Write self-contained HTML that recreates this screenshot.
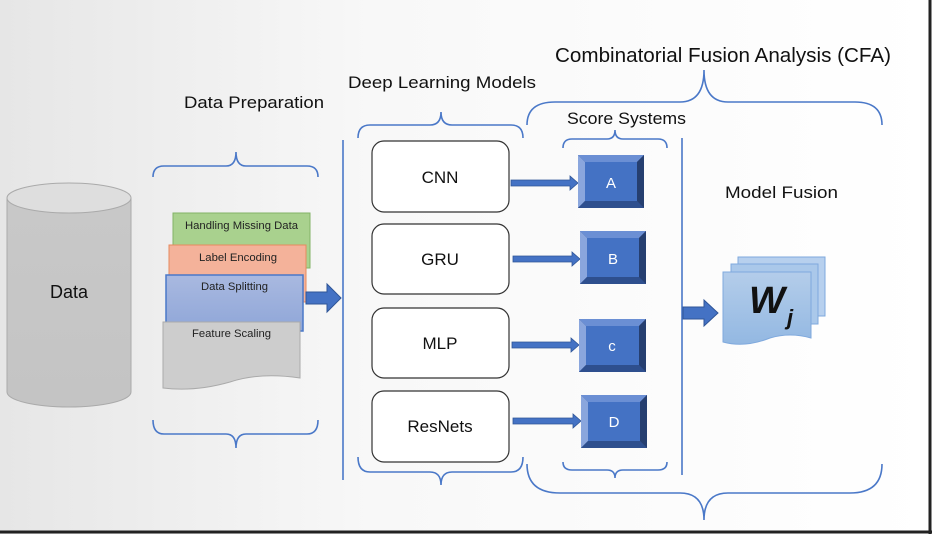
<!DOCTYPE html>
<html><head><meta charset="utf-8"><style>
html,body{margin:0;padding:0;background:#fff}
svg{display:block}
text{font-family:"Liberation Sans",sans-serif}
</style></head><body>
<svg width="932" height="534" viewBox="0 0 932 534" xmlns="http://www.w3.org/2000/svg">
<defs>
<linearGradient id="bg" x1="0" x2="1" y1="0" y2="0">
<stop offset="0" stop-color="#e6e6e6"/><stop offset="0.4" stop-color="#f8f8f8"/><stop offset="1" stop-color="#ffffff"/></linearGradient>
<linearGradient id="cyl" x1="0" x2="0" y1="0" y2="1"><stop offset="0" stop-color="#c8c8c8"/><stop offset="1" stop-color="#c4c4c4"/></linearGradient>
<linearGradient id="blu" x1="0" x2="0" y1="0" y2="1"><stop offset="0" stop-color="#a9b9e0"/><stop offset="1" stop-color="#8fa6d8"/></linearGradient>
<linearGradient id="doc" x1="0" x2="0" y1="0" y2="1"><stop offset="0" stop-color="#b4cdea"/><stop offset="1" stop-color="#93b8e2"/></linearGradient>
</defs>
<rect width="932" height="534" fill="url(#bg)"/>
<line x1="930" y1="0" x2="930" y2="534" stroke="#222" stroke-width="3"/>
<line x1="0" y1="532" x2="932" y2="532" stroke="#222" stroke-width="3"/>

<!-- cylinder -->
<path d="M7,198 L7,392 A62,15 0 0 0 131,392 L131,198 Z" fill="url(#cyl)" stroke="#aaa"/>
<ellipse cx="69" cy="198" rx="62" ry="15" fill="#dedede" stroke="#aaa"/>
<text x="69" y="298" font-size="18" text-anchor="middle" fill="#111">Data</text>

<g fill="none" stroke="#4a78c8" stroke-width="1.6">
<path d="M153,177 Q153,166 164,166 L226,166 Q236,166 236,152 Q236,166 246,166 L307,166 Q318,166 318,177"/>
<path d="M153,420 Q153,434 164,434 L226,434 Q236,434 236,448 Q236,434 246,434 L307,434 Q318,434 318,420"/>
<path d="M358,138 Q358,125 370,125 L430,125 Q441,125 441,112 Q441,125 452,125 L511,125 Q523,125 523,138"/>
<path d="M358,457 Q358,472 370,472 L430,472 Q441,472 441,485 Q441,472 452,472 L511,472 Q523,472 523,457"/>
<path d="M563,148 Q563,139 572,139 L607,139 Q615,139 615,130 Q615,139 623,139 L658,139 Q667,139 667,148"/>
<path d="M563,462 Q563,470 572,470 L607,470 Q615,470 615,478 Q615,470 623,470 L658,470 Q667,470 667,462"/>
<path d="M527,125 Q527,102 555,102 L680,102 Q704,102 704,70 Q704,102 728,102 L855,102 Q882,102 882,125"/>
<path d="M527,464 Q527,493 560,493 L680,493 Q704,493 704,520 Q704,493 728,493 L850,493 Q882,493 882,464"/>
<line x1="343" y1="140" x2="343" y2="480"/>
<line x1="682" y1="138" x2="682" y2="475"/>
</g>

<!-- prep boxes -->
<rect x="173" y="213" width="137" height="55" fill="#a9d18e" stroke="#82b366"/>
<rect x="169" y="245" width="137" height="57" fill="#f4b29a" stroke="#e68a5e"/>
<rect x="166" y="275" width="137" height="56" fill="url(#blu)" stroke="#4a78c8" stroke-width="1.5"/>
<path d="M163,322 L300,322 L300,378 Q260,372 230,382 Q195,392 163,388 Z" fill="#cdcdcd" stroke="#aaa"/>
<text x="185" y="229" font-size="11" textLength="113" lengthAdjust="spacingAndGlyphs" fill="#222">Handling Missing Data</text>
<text x="199" y="261" font-size="11" textLength="78" lengthAdjust="spacingAndGlyphs" fill="#222">Label Encoding</text>
<text x="201" y="290" font-size="11" textLength="67" lengthAdjust="spacingAndGlyphs" fill="#222">Data Splitting</text>
<text x="192" y="337" font-size="11" textLength="79" lengthAdjust="spacingAndGlyphs" fill="#222">Feature Scaling</text>
<path d="M306,292 L327,292 L327,284 L341,298 L327,312 L327,304 L306,304 Z" fill="#4472c4" stroke="#2f5597"/>

<!-- titles -->
<text x="184" y="108" font-size="17" textLength="140" lengthAdjust="spacingAndGlyphs" fill="#111">Data Preparation</text>
<text x="348" y="88" font-size="17" textLength="188" lengthAdjust="spacingAndGlyphs" fill="#111">Deep Learning Models</text>
<text x="567" y="124" font-size="17" textLength="119" lengthAdjust="spacingAndGlyphs" fill="#111">Score Systems</text>
<text x="555" y="62" font-size="20" textLength="336" lengthAdjust="spacingAndGlyphs" fill="#111">Combinatorial Fusion Analysis (CFA)</text>
<text x="725" y="198" font-size="17" textLength="113" lengthAdjust="spacingAndGlyphs" fill="#111">Model Fusion</text>

<!-- model boxes -->
<g fill="#fff" stroke="#333" stroke-width="1.2">
<rect x="372" y="141" width="137" height="71" rx="12"/>
<rect x="372" y="224" width="137" height="70" rx="12"/>
<rect x="372" y="308" width="137" height="70" rx="12"/>
<rect x="372" y="391" width="137" height="71" rx="12"/>
</g>
<g font-size="17" text-anchor="middle" fill="#111">
<text x="440" y="183">CNN</text><text x="440" y="265">GRU</text><text x="440" y="349">MLP</text><text x="440" y="432">ResNets</text>
</g>

<g fill="#4472c4" stroke="#2f5597" stroke-width="0.8">
<path d="M511,180 L570,180 L570,176 L578,183 L570,190 L570,186 L511,186 Z"/>
<path d="M513,256 L572,256 L572,252 L580,259 L572,266 L572,262 L513,262 Z"/>
<path d="M512,342 L571,342 L571,338 L579,345 L571,352 L571,348 L512,348 Z"/>
<path d="M513,418 L573,418 L573,414 L581,421 L573,428 L573,424 L513,424 Z"/>
</g>

<g>
<g transform="translate(578,155)"><rect width="66" height="53" fill="#2f4f8a"/><polygon points="0,0 66,0 59,7 7,7" fill="#6b8fd4"/><polygon points="0,0 7,7 7,46 0,53" fill="#8aa6dd"/><polygon points="66,0 66,53 59,46 59,7" fill="#263f70"/><polygon points="0,53 66,53 59,46 7,46" fill="#2e4f8e"/><rect x="7" y="7" width="52" height="39" fill="#4472c4"/><text x="33" y="33" font-size="15" text-anchor="middle" fill="#fff">A</text></g>
<g transform="translate(580,231)"><rect width="66" height="53" fill="#2f4f8a"/><polygon points="0,0 66,0 59,7 7,7" fill="#6b8fd4"/><polygon points="0,0 7,7 7,46 0,53" fill="#8aa6dd"/><polygon points="66,0 66,53 59,46 59,7" fill="#263f70"/><polygon points="0,53 66,53 59,46 7,46" fill="#2e4f8e"/><rect x="7" y="7" width="52" height="39" fill="#4472c4"/><text x="33" y="33" font-size="15" text-anchor="middle" fill="#fff">B</text></g>
<g transform="translate(579,319)"><rect width="67" height="53" fill="#2f4f8a"/><polygon points="0,0 67,0 60,7 7,7" fill="#6b8fd4"/><polygon points="0,0 7,7 7,46 0,53" fill="#8aa6dd"/><polygon points="67,0 67,53 60,46 60,7" fill="#263f70"/><polygon points="0,53 67,53 60,46 7,46" fill="#2e4f8e"/><rect x="7" y="7" width="53" height="39" fill="#4472c4"/><text x="33" y="32" font-size="15" text-anchor="middle" fill="#fff">c</text></g>
<g transform="translate(581,395)"><rect width="66" height="53" fill="#2f4f8a"/><polygon points="0,0 66,0 59,7 7,7" fill="#6b8fd4"/><polygon points="0,0 7,7 7,46 0,53" fill="#8aa6dd"/><polygon points="66,0 66,53 59,46 59,7" fill="#263f70"/><polygon points="0,53 66,53 59,46 7,46" fill="#2e4f8e"/><rect x="7" y="7" width="52" height="39" fill="#4472c4"/><text x="33" y="32" font-size="15" text-anchor="middle" fill="#fff">D</text></g>
</g>

<path d="M683,307 L704,307 L704,300 L718,313 L704,326 L704,319 L683,319 Z" fill="#4472c4" stroke="#2f5597"/>

<rect x="738" y="257" width="87" height="59" fill="#b7d0ee" stroke="#7fa9dd"/>
<rect x="731" y="264" width="87" height="60" fill="#aac8ea" stroke="#7fa9dd"/>
<path d="M723,272 L811,272 L811,338 Q790,332 770,338 Q745,348 723,342 Z" fill="url(#doc)" stroke="#7fa9dd"/>
<text x="749" y="313" font-size="38" font-weight="bold" font-style="italic" font-family="Liberation Serif,serif" fill="#111">W</text>
<text x="787" y="325" font-size="22" font-weight="bold" font-style="italic" font-family="Liberation Serif,serif" fill="#111">j</text>
</svg>
</body></html>
